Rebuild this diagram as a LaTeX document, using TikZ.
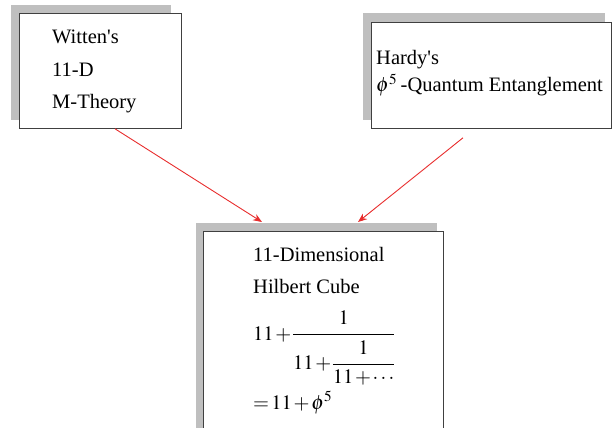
\documentclass[tikz,border=0pt]{standalone}
\usepackage{amsmath}
\usepackage{mathptmx}
\usepackage{fontspec}
\setmainfont{Liberation Serif}
\usetikzlibrary{arrows.meta,calc}
\definecolor{linkred}{RGB}{232,45,45}
\newcommand{\tightmath}{\medmuskip=1.5mu\thickmuskip=2mu\nulldelimiterspace=0pt}

\begin{document}
\begin{tikzpicture}[x=1pt, y=-1pt,
  box/.style={draw=black!75, line width=0.8pt, fill=white, inner sep=0pt, anchor=north west},
  shade/.style={fill=black!25},
  txt/.style={anchor=base west, inner sep=0pt, font=\fontsize{20.5}{24}\selectfont\tightmath},
  link/.style={linkred, line width=0.9pt, -{Stealth[length=9pt, width=7pt]}},
]

% Page frame (pixel coordinates, y downwards)
\clip (0,0) rectangle (613,428);
\useasboundingbox (0,0) rectangle (613,428);

% ============================================================
% SHADOWS
% ============================================================
\fill[shade] (11,5) rectangle (171,120);
\fill[shade] (363,13) rectangle (605,120);
\fill[shade] (196,223) rectangle (437,450);

% ============================================================
% BOXES
% ============================================================
\node[box, minimum width=162pt, minimum height=115pt] (witten) at (19,13) {};
\node[box, minimum width=240pt, minimum height=106pt] (hardy) at (371,22) {};
\node[box, minimum width=240pt, minimum height=220pt] (hilbert) at (203,231) {};

% Witten (top-left)
\node[txt] (w1) at (52,44) {Witten\textquotesingle s};
\node[txt] (w2) at (52,77) {11-D};
\node[txt] (w3) at (52,108) {M-Theory};

% Hardy (top-right)
\node[txt] (h1) at (376,64) {Hardy\textquotesingle s};
\node[txt] (h2) at (376,92) {$\phi^5$\,-Quantum Entanglement};

% Hilbert cube (bottom)
\node[txt] (c1) at (253,261) {11-Dimensional};
\node[txt] (c2) at (253,293) {Hilbert Cube};
\node[txt] (c3) at (253,340) {$\displaystyle 11+\cfrac{1}{11+\cfrac{1}{11+\cdots}}$};
\node[txt] (c4) at (253,409) {$=11+\phi^5$};

% ============================================================
% ARROWS
% ============================================================
\draw[link] ($(witten.south west)+(96,0)$) -- ($(hilbert.north west)+(59,-9)$);
\draw[link] ($(hardy.south west)+(92,9)$) -- ($(hilbert.north west)+(155,-9)$);

\end{tikzpicture}
\end{document}
